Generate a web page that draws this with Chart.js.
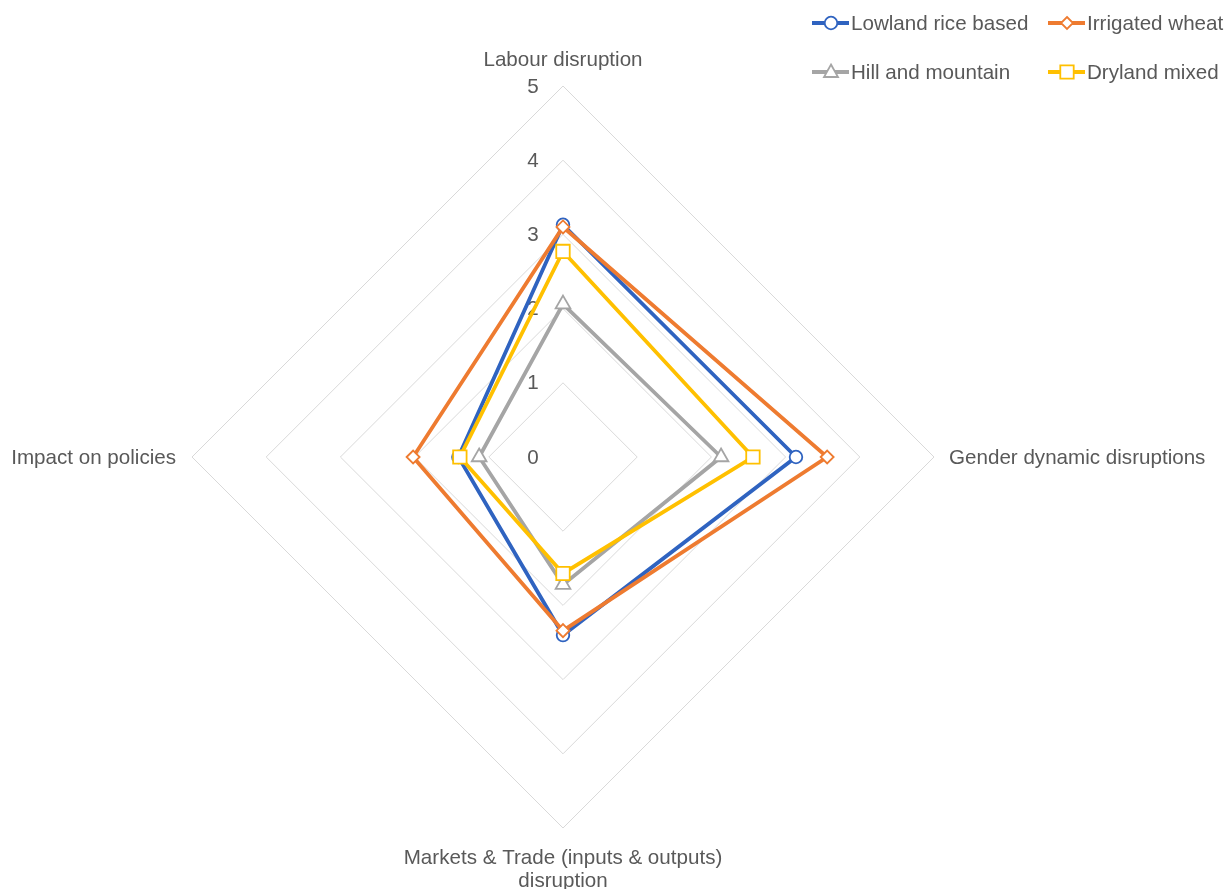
<!DOCTYPE html>
<html>
<head>
<meta charset="utf-8">
<script src="https://cdn.jsdelivr.net/npm/chart.js"></script>
<style>
  html, body { margin: 0; padding: 0; background: #fff; }
  #wrap { position: relative; width: 1224px; height: 889px; }
</style>
</head>
<body>
<div id="wrap"><canvas id="radar"></canvas></div>
<script>
// data
const categories = [
    'Labour disruption',
    'Gender dynamic disruptions',
    ['Markets & Trade (inputs & outputs)', 'disruption'],
    'Impact on policies'
];
const seriesNames = ['Lowland rice based', 'Irrigated wheat', 'Hill and mountain', 'Dryland mixed'];
const lowlandRice = [3.13, 3.14, 2.40, 1.41];
const irrigatedWheat = [3.10, 3.56, 2.34, 2.02];
const hillMountain = [2.06, 2.13, 1.72, 1.13];
const drylandMixed = [2.77, 2.56, 1.57, 1.39];
const tickValues = [0, 1, 2, 3, 4, 5];

const colors = ['#2f63c0', '#ee7b30', '#a5a5a5', '#ffc000'];
const markers = ['circle', 'rectRot', 'triangle', 'rect'];
const markerSizes = [6.3, 6.5, 8.5, 9.5];
const textColor = '#595959';
const font = '20.6px "Liberation Sans", Arial, sans-serif';

// tick numbers and category names drawn beside the grid
const axisText = {
    id: 'axisText',
    beforeDatasetsDraw(chart) {
        const r = chart.scales.r;
        const ctx = chart.ctx;
        ctx.save();
        ctx.fillStyle = textColor;
        ctx.font = font;
        ctx.textAlign = 'center';
        ctx.textBaseline = 'middle';
        tickValues.forEach(v => {
            const d = r.getDistanceFromCenterForValue(v);
            ctx.fillText(String(v), r.xCenter - 30, r.yCenter - d + 1);
        });

        const lh = 23;
        chart.data.labels.forEach((lab, i) => {
            const lines = Array.isArray(lab) ? lab : [lab];
            const p = r.getPointPosition(i, r.drawingArea);
            const c = Math.cos(p.angle), s = Math.sin(p.angle);
            let x = p.x, y = p.y;
            if (c > 0.5) { ctx.textAlign = 'left'; x += 15; }
            else if (c < -0.5) { ctx.textAlign = 'right'; x -= 16; }
            else ctx.textAlign = 'center';
            if (s < -0.5) { y = p.y - 14 - lh / 2 - (lines.length - 1) * lh; }
            else if (s > 0.5) { y = p.y + 19 + lh / 2; }
            else { y = p.y + 1 - (lines.length - 1) * lh / 2; }
            lines.forEach((t, k) => ctx.fillText(t, x, y + k * lh));
        });
        ctx.restore();
    }
};

function drawMarker(ctx, type, x, y, color) {
    ctx.beginPath();
    if (type === 'circle') {
        ctx.arc(x, y, 6.3, 0, Math.PI * 2);
    } else if (type === 'rectRot') {
        ctx.moveTo(x, y - 6); ctx.lineTo(x + 6, y); ctx.lineTo(x, y + 6); ctx.lineTo(x - 6, y);
        ctx.closePath();
    } else if (type === 'triangle') {
        ctx.moveTo(x, y - 7.5); ctx.lineTo(x + 7, y + 5); ctx.lineTo(x - 7, y + 5);
        ctx.closePath();
    } else {
        ctx.rect(x - 6.7, y - 6.7, 13.4, 13.4);
    }
    ctx.fillStyle = '#fff';
    ctx.fill();
    ctx.lineWidth = 1.8;
    ctx.strokeStyle = color;
    ctx.stroke();
}

// legend with line + marker, two per row
const lineLegend = {
    id: 'lineLegend',
    afterDraw(chart) {
        const ctx = chart.ctx;
        const cols = [812, 1048];
        const rows = [23, 72];
        ctx.save();
        ctx.font = font;
        ctx.textAlign = 'left';
        ctx.textBaseline = 'middle';
        chart.data.datasets.forEach((ds, i) => {
            const x = cols[i % 2], y = rows[Math.floor(i / 2)];
            ctx.beginPath();
            ctx.moveTo(x, y);
            ctx.lineTo(x + 37, y);
            ctx.lineWidth = 3.8;
            ctx.strokeStyle = ds.borderColor;
            ctx.stroke();
            drawMarker(ctx, markers[i], x + 19, y, ds.borderColor);
            ctx.fillStyle = textColor;
            ctx.fillText(ds.label, x + 39, y + 1);
        });
        ctx.restore();
    }
};

const seriesValues = [lowlandRice, irrigatedWheat, hillMountain, drylandMixed];

new Chart(document.getElementById('radar'), {
    type: 'radar',
    data: {
        labels: categories,
        datasets: seriesValues.map((vals, i) => ({
            label: seriesNames[i],
            data: vals,
            borderColor: colors[i],
            backgroundColor: colors[i],
            borderWidth: 3.8,
            fill: false,
            pointStyle: markers[i],
            pointRadius: markerSizes[i],
            pointBackgroundColor: '#fff',
            pointBorderColor: colors[i],
            pointBorderWidth: 1.8,
            order: 4 - i
        }))
    },
    options: {
        responsive: true,
        maintainAspectRatio: false,
        animation: false,
        layout: { padding: { left: 192, right: 290, top: 86, bottom: 61 } },
        plugins: {
            legend: { display: false },
            tooltip: { enabled: false }
        },
        elements: { line: { tension: 0 } },
        scales: {
            r: {
                min: 0,
                max: 5,
                ticks: { stepSize: 1, display: false },
                pointLabels: { display: false },
                angleLines: { display: false },
                grid: { color: '#d9d9d9', lineWidth: 1 }
            }
        }
    },
    plugins: [axisText, lineLegend]
});
</script>
</body>
</html>
